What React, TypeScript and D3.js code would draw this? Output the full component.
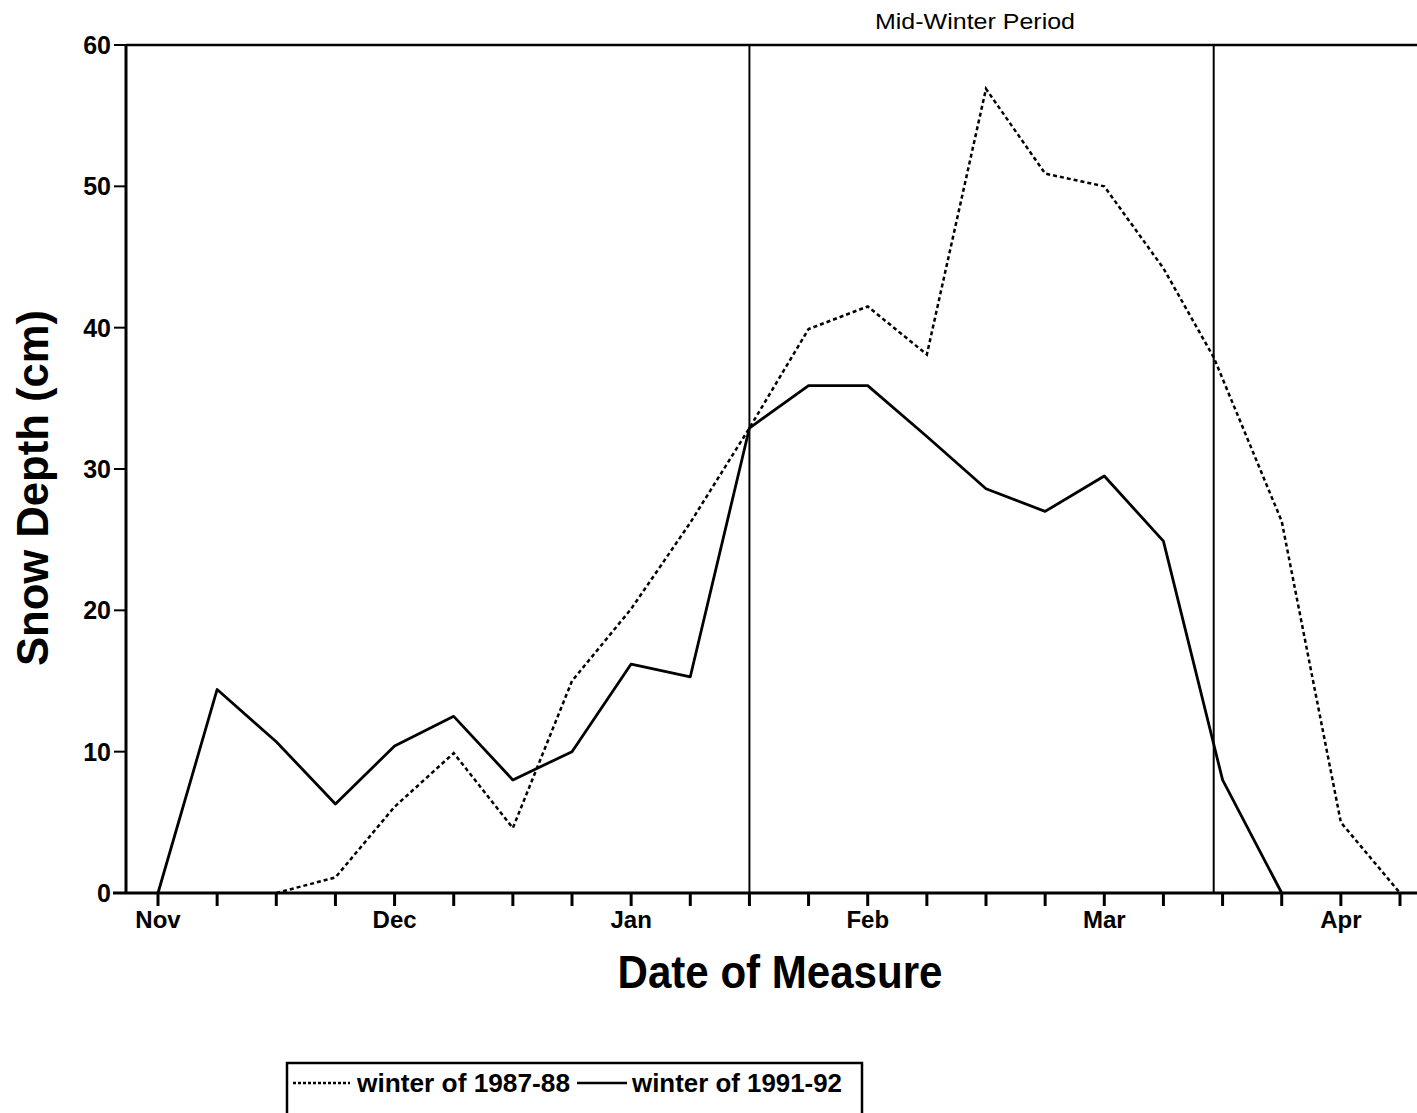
import React from "react";
import * as d3 from "d3";

const monthLabels = ["Nov", "Dec", "Jan", "Feb", "Mar", "Apr"];
const monthTickIdx = [0, 4, 8, 12, 16, 20];
const tickIdx = d3.range(0, 22);
const yTicks = [0, 10, 20, 30, 40, 50, 60];

const solidWeeks = [0, 1, 2, 3, 4, 5, 6, 7, 8, 9, 10, 11, 12, 13, 14, 15, 16, 17, 18, 19];
const solid1991 = [0, 14.4, 10.7, 6.3, 10.4, 12.5, 8.0, 10.0, 16.2, 15.3, 32.9, 35.9, 35.9, 32.3, 28.6, 27.0, 29.5, 24.9, 8.0, 0];

const dottedWeeks = [2, 3, 4, 5, 6, 7, 8, 9, 10, 11, 12, 13, 14, 15, 16, 17, 17.85, 19, 20, 21];
const dotted1987 = [0, 1.1, 6.1, 9.9, 4.6, 15.0, 20.1, 26.2, 32.9, 39.9, 41.5, 38.1, 56.9, 50.9, 50.0, 44.2, 37.9, 26.3, 5.0, 0];

const periodBounds = [10, 17.85];

const W = 1417;
const H = 1113;
const FONT = "'Liberation Sans Narrow', 'Liberation Sans', Arial, sans-serif";

export default function App() {
  const x = d3.scaleLinear().domain([0, 21]).range([158, 1400]);
  const y = d3.scaleLinear().domain([0, 60]).range([893, 45]);
  const left = 126;
  const right = W;

  const line = d3
    .line<[number, number]>()
    .x((d) => x(d[0]))
    .y((d) => y(d[1]));

  const solidPts: [number, number][] = solidWeeks.map((w, i) => [w, solid1991[i]]);
  const dottedPts: [number, number][] = dottedWeeks.map((w, i) => [w, dotted1987[i]]);

  return (
    <svg
      width={W}
      height={H}
      style={{ position: "absolute", left: 0, top: 0, background: "#fff" }}
      fontFamily={FONT}
    >
      <rect x={0} y={0} width={W} height={H} fill="#fff" />
      {/* frame */}
      <line x1={left} x2={right} y1={y(60)} y2={y(60)} stroke="#000" strokeWidth={2.5} />
      <line x1={left} x2={left} y1={y(60)} y2={y(0)} stroke="#000" strokeWidth={3} />
      <line x1={113} x2={right} y1={y(0)} y2={y(0)} stroke="#000" strokeWidth={3} />

      {/* y ticks */}
      {yTicks.map((t) => (
        <g key={"y" + t}>
          <line x1={114} x2={left} y1={y(t)} y2={y(t)} stroke="#000" strokeWidth={2} />
          <text
            x={111}
            y={y(t)}
            dy="0.36em"
            textAnchor="end"
            fontSize={25}
            fontWeight="bold"
          >
            {t}
          </text>
        </g>
      ))}

      {/* x ticks */}
      {tickIdx.map((t) => (
        <line key={"x" + t} x1={x(t)} x2={x(t)} y1={y(0)} y2={y(0) + 13} stroke="#000" strokeWidth={3} />
      ))}
      {monthTickIdx.map((t, i) => (
        <text key={"m" + i} x={x(t)} y={928} textAnchor="middle" fontSize={24} fontWeight="bold">
          {monthLabels[i]}
        </text>
      ))}

      {/* period lines */}
      {periodBounds.map((b, i) => (
        <line key={"p" + i} x1={x(b)} x2={x(b)} y1={y(60)} y2={y(0)} stroke="#000" strokeWidth={2} />
      ))}
      <text x={975} y={29} textAnchor="middle" fontSize={22} textLength={200} lengthAdjust="spacingAndGlyphs">
        Mid-Winter Period
      </text>

      {/* series */}
      <path d={line(dottedPts) || ""} fill="none" stroke="#000" strokeWidth={2.5} strokeDasharray="4,3" />
      <path d={line(solidPts) || ""} fill="none" stroke="#000" strokeWidth={2.8} strokeLinejoin="round" />

      {/* axis titles */}
      <text
        x={780}
        y={988}
        textAnchor="middle"
        fontSize={46}
        fontWeight="bold"
        textLength={325}
        lengthAdjust="spacingAndGlyphs"
      >
        Date of Measure
      </text>
      <text
        transform={`translate(48, 488) rotate(-90)`}
        textAnchor="middle"
        fontSize={44}
        fontWeight="bold"
        textLength={356}
        lengthAdjust="spacingAndGlyphs"
      >
        Snow Depth (cm)
      </text>

      {/* legend */}
      <rect x={287} y={1063} width={575} height={70} fill="none" stroke="#000" strokeWidth={2.5} />
      <line x1={293} x2={350} y1={1083} y2={1083} stroke="#000" strokeWidth={2.5} strokeDasharray="3,2" />
      <text x={357} y={1092} fontSize={25} fontWeight="bold" textLength={213} lengthAdjust="spacingAndGlyphs">
        winter of 1987-88
      </text>
      <line x1={577} x2={627} y1={1083} y2={1083} stroke="#000" strokeWidth={2.5} />
      <text x={632} y={1092} fontSize={25} fontWeight="bold" textLength={210} lengthAdjust="spacingAndGlyphs">
        winter of 1991-92
      </text>
    </svg>
  );
}
